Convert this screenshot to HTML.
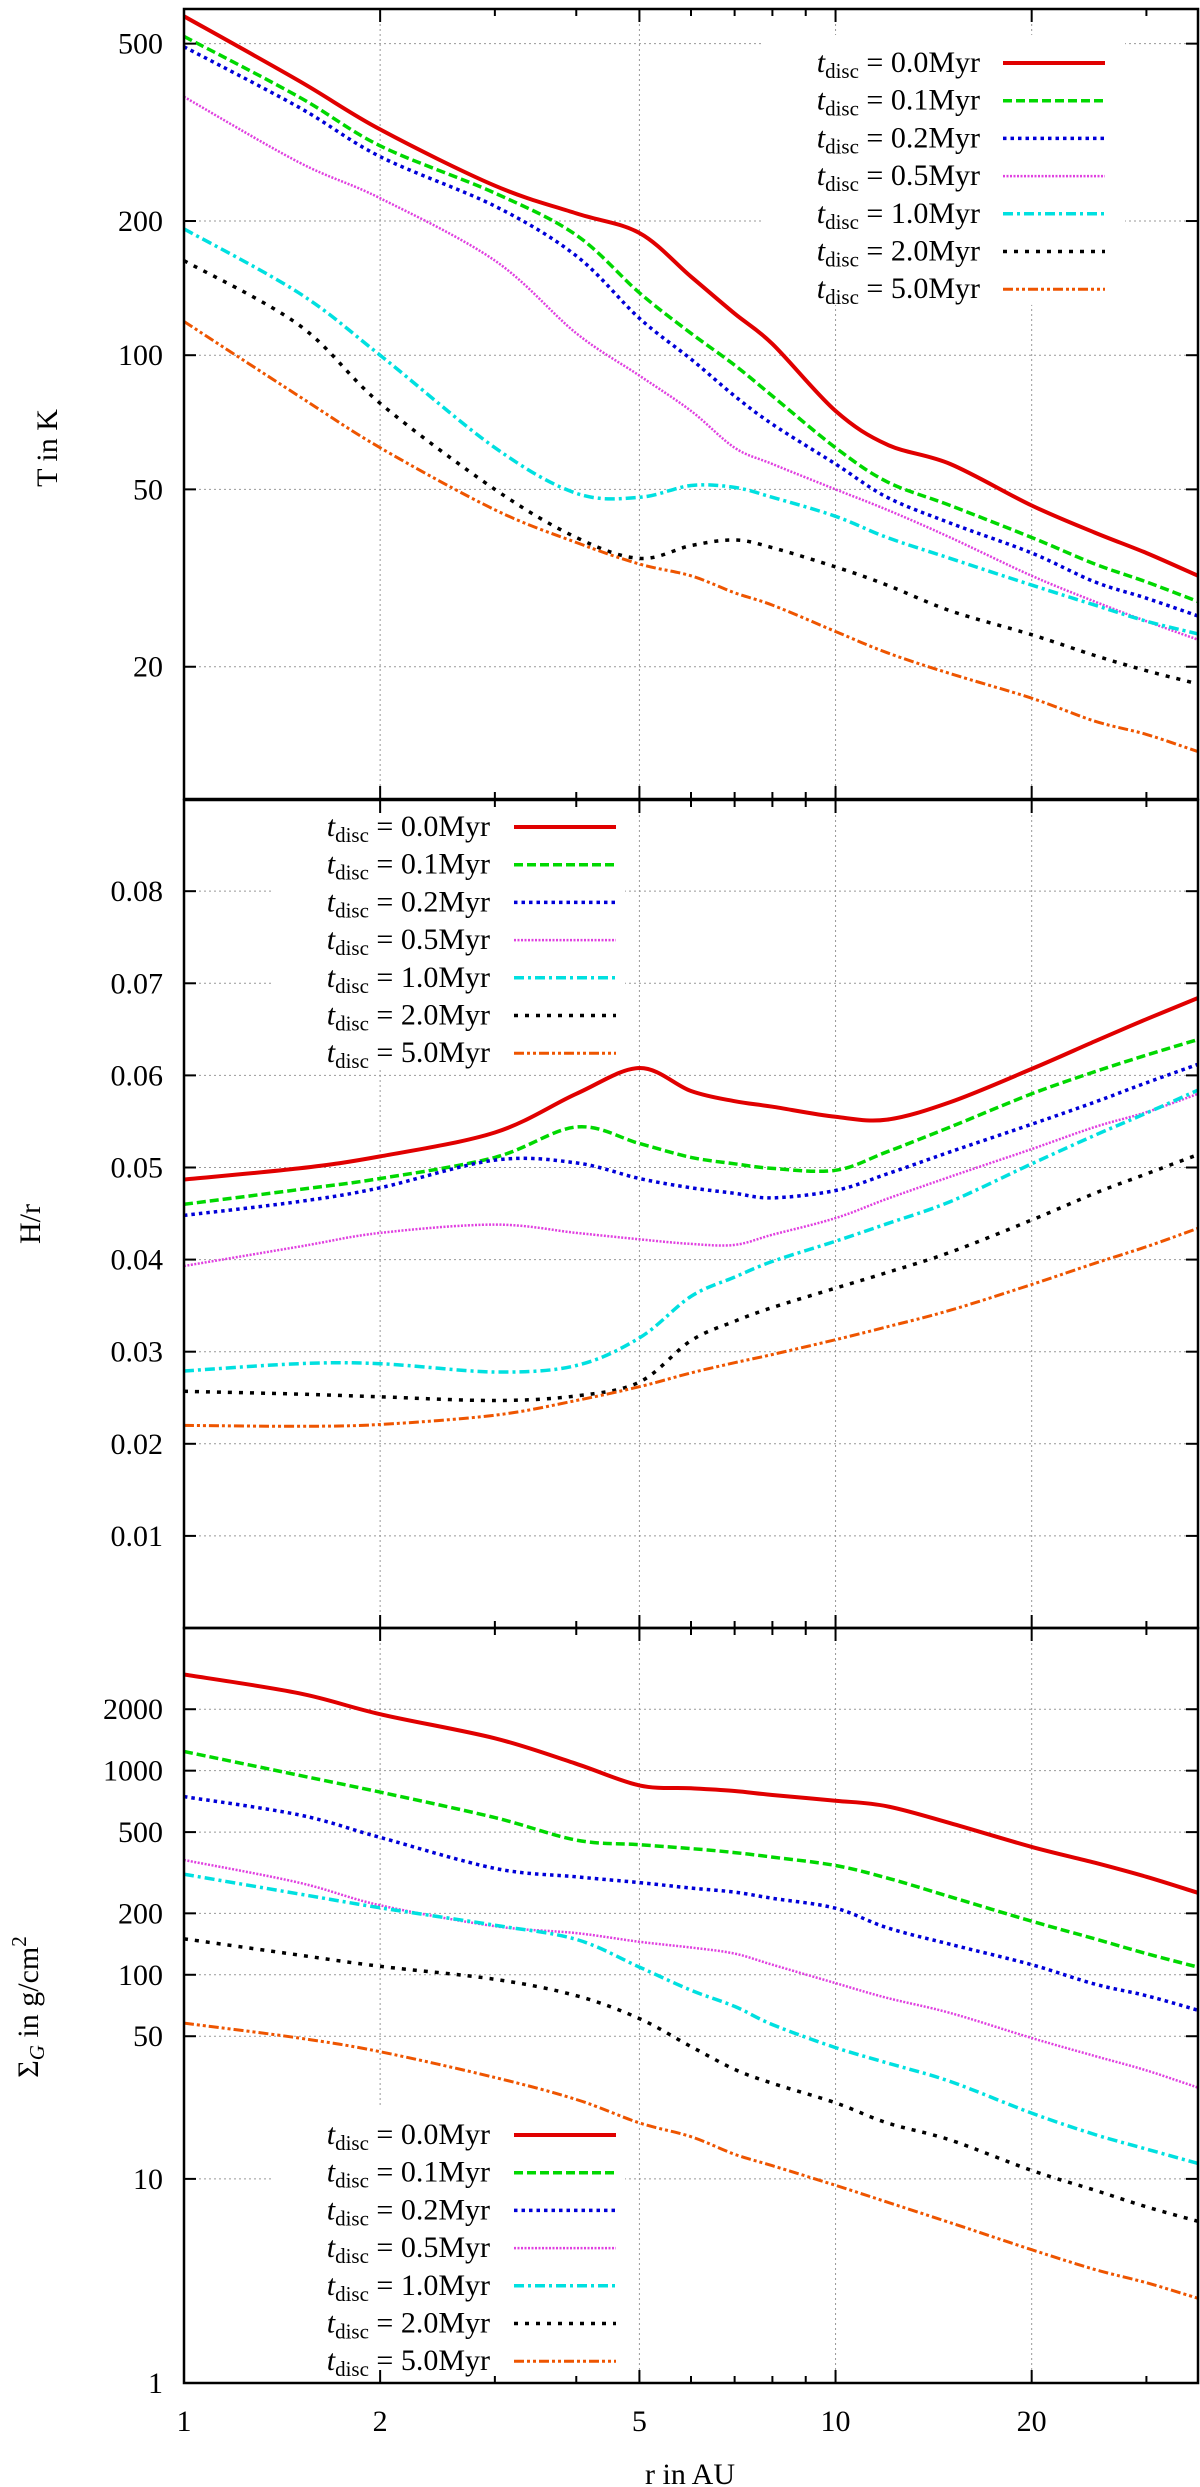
<!DOCTYPE html>
<html><head><meta charset="utf-8"><style>
body{margin:0;background:#fff}
svg{display:block;font-family:"Liberation Serif",serif}
</style></head><body>
<svg id="chart" width="1200" height="2487" viewBox="0 0 1200 2487" xmlns="http://www.w3.org/2000/svg"></svg>
<script>
// ---- data ----
const radii = [1,1.5,2,3,4,5,6,7,8,10,12,15,20,25,30,36];
const seriesLabels = ["0.0","0.1","0.2","0.5","1.0","2.0","5.0"];
const tempRed    = [576,413,321,240,208,188,150,124,106,75,63,57,46,40,36,32];
const tempGreen  = [519,380,295,231,186,138,112,95,81,62,52,46,39,34,31,28];
const tempBlue   = [492,360,279,216,167,121,98,81,70,57,48,42,36,31,28.5,26];
const tempPink   = [380,271,225,163,112,90,75,62,57,50,45,39,32,28,25.3,23];
const tempCyan   = [192,138,100,62,49,48,51,50.5,48,43.5,39,35,30.5,27.5,25.3,23.7];
const tempBlack  = [163,117,78,50,39,35,37.4,38.5,37,33.5,30.5,26.7,23.6,21.2,19.6,18.3];
const tempOrange = [119,81,62,45,38,34,32,29.3,27.5,24,21.5,19.3,17,15.1,14.1,12.9];
const hrRed    = [0.0487,0.0499,0.0512,0.0538,0.058,0.0608,0.0583,0.0572,0.0566,0.0555,0.0552,0.0571,0.0607,0.0637,0.0661,0.0684];
const hrGreen  = [0.046,0.0476,0.0488,0.0511,0.0544,0.0526,0.0511,0.0504,0.0499,0.0497,0.0517,0.0544,0.058,0.0604,0.0622,0.0639];
const hrBlue   = [0.0448,0.0463,0.0478,0.0508,0.0505,0.0488,0.0478,0.0472,0.0467,0.0475,0.0493,0.0517,0.0547,0.0571,0.0592,0.0612];
const hrPink   = [0.0393,0.0414,0.0429,0.0438,0.0429,0.0422,0.0417,0.0416,0.0427,0.0445,0.0466,0.049,0.052,0.0544,0.056,0.058];
const hrCyan   = [0.0279,0.0287,0.0287,0.0278,0.0285,0.0315,0.036,0.0381,0.0398,0.042,0.0439,0.0463,0.0504,0.0535,0.0559,0.0584];
const hrBlack  = [0.0257,0.0254,0.0251,0.0247,0.0252,0.0267,0.0312,0.0333,0.0348,0.0369,0.0386,0.0408,0.0443,0.0472,0.0493,0.0514];
const hrOrange = [0.022,0.0219,0.0221,0.0231,0.0247,0.0262,0.0277,0.0288,0.0297,0.0313,0.0327,0.0345,0.0373,0.0396,0.0414,0.0434];
const sigRed    = [2960,2397,1890,1440,1080,847,820,795,760,713,669,553,423,354,302,252];
const sigGreen  = [1242,950,785,589,457,434,415,397,377,343,298,241,183,150,127,109];
const sigBlue   = [746,608,471,332,302,283,266,254,237,212,170,141,112,90,79,67];
const sigPink   = [365,283,219,173,160,145,136,127,112,91,77,65,49,40,34,28];
const sigCyan   = [311,249,213,175,149,109,84,70,57,44,37,30,21,16.5,14,11.9];
const sigBlack  = [150,125,110,95,79,61,44.5,34.4,29.4,23.6,18.8,15.5,11,8.8,7.3,6.2];
const sigOrange = [58,49,42,31.4,24.5,18.8,16.1,13.2,11.6,9.3,7.7,6.1,4.5,3.6,3.1,2.6];
const xTicks = [1,2,5,10,20];
const xMinor = [3,4,6,7,8,9,30];
const tTicks = [20,50,100,200,500];
const hrTicks = [0.01,0.02,0.03,0.04,0.05,0.06,0.07,0.08];
const sigTicks = [1,10,50,100,200,500,1000,2000];

// ---- layout ----
const NS="http://www.w3.org/2000/svg";
const svg=document.getElementById('chart');
const X0=184,X1=1198,XMIN=1,XMAX=36;
const xs=r=>X0+(Math.log10(r)-Math.log10(XMIN))/(Math.log10(XMAX)-Math.log10(XMIN))*(X1-X0);
function logY(top,bot,min,max){return v=>bot-(Math.log10(v)-Math.log10(min))/(Math.log10(max)-Math.log10(min))*(bot-top);}
function linY(top,bot,min,max){return v=>bot-(v-min)/(max-min)*(bot-top);}
const colors=["#e00000","#00d800","#0000d8","#e040e0","#00e0e0","#000000","#ee5500"];
const dashes=[null,"9,4","3.5,4","2,1.5","10,4,3,4","4,7","10,3,3,3,3,3"];
const widths=[4,3.5,3.5,2.5,3.5,3.5,3];
const seriesNames=["t0","t01","t02","t05","t1","t2","t5"];

function el(tag,attrs,parent){const e=document.createElementNS(NS,tag);for(const k in attrs)e.setAttribute(k,attrs[k]);(parent||svg).appendChild(e);return e;}

function smoothPath(pts){
  let d=`M${pts[0][0].toFixed(1)},${pts[0][1].toFixed(1)}`;
  for(let i=0;i<pts.length-1;i++){
    const p0=pts[Math.max(0,i-1)],p1=pts[i],p2=pts[i+1],p3=pts[Math.min(pts.length-1,i+2)];
    const c1=[p1[0]+(p2[0]-p0[0])/6,p1[1]+(p2[1]-p0[1])/6];
    const c2=[p2[0]-(p3[0]-p1[0])/6,p2[1]-(p3[1]-p1[1])/6];
    d+=`C${c1[0].toFixed(1)},${c1[1].toFixed(1)} ${c2[0].toFixed(1)},${c2[1].toFixed(1)} ${p2[0].toFixed(1)},${p2[1].toFixed(1)}`;
  }
  return d;
}

function panel(cfg){
  const {key,top,bot,ys,yticks,fmt,series,legendX,legendLineX,legendY,yLabel,yLabelY,bx}=cfg;
  const g=el('g',{});
  
  
  // grid
  xTicks.slice(1).forEach(t=>{
    const l=el('line',{x1:xs(t),x2:xs(t),y1:top,y2:bot,stroke:'#999','stroke-width':1,'stroke-dasharray':'2,3'},g);
    
    
  });
  yticks.forEach(t=>{
    const l=el('line',{x1:X0,x2:X1,y1:ys(t),y2:ys(t),stroke:'#999','stroke-width':1,'stroke-dasharray':'2,3'},g);
    
    
  });
  // legend background
  const bg=el('rect',{x:bx[0],y:legendY-28,width:bx[1]-bx[0],height:37.7*7+6,fill:'#fff'},g);
  
  
  // series
  const clipId='clip-'+key;
  const cp=el('clipPath',{id:clipId},g);
  el('rect',{x:X0,y:top,width:X1-X0,height:bot-top},cp);
  series.forEach((vals,i)=>{
    const pts=radii.map((r,j)=>[xs(r),ys(vals[j])]);
    const a={d:smoothPath(pts),fill:'none',stroke:colors[i],'stroke-width':widths[i],'clip-path':`url(#${clipId})`};
    if(dashes[i])a['stroke-dasharray']=dashes[i];
    const p=el('path',a,g);
    
    
  });
  // legend entries
  seriesLabels.forEach((lab,i)=>{
    const y=legendY+i*37.7;
    const t=el('text',{x:legendX,y:y+9,'text-anchor':'end','font-size':30},g);
    
    
    const t1=el('tspan',{'font-style':'italic'},t);t1.textContent='t';
    const t2=el('tspan',{'font-size':21,dy:6},t);t2.textContent='disc';
    const t3=el('tspan',{dy:-6},t);t3.textContent=' = '+lab+'Myr';
    const a={x1:legendLineX,x2:legendLineX+102,y1:y,y2:y,stroke:colors[i],'stroke-width':widths[i]};
    if(dashes[i])a['stroke-dasharray']=dashes[i];
    const l=el('line',a,g);
    
    
  });
  // frame
  const fr=el('rect',{x:X0,y:top,width:X1-X0,height:bot-top,fill:'none',stroke:'#000','stroke-width':2.5},g);
  
  
  // y ticks + labels
  yticks.forEach(t=>{
    const y=ys(t);
    el('line',{x1:X0,x2:X0+12,y1:y,y2:y,stroke:'#000','stroke-width':2},g);
    el('line',{x1:X1-12,x2:X1,y1:y,y2:y,stroke:'#000','stroke-width':2},g);
    const tx=el('text',{x:163,y:y+10,'text-anchor':'end','font-size':30},g);
    
    
    tx.textContent=fmt(t);
  });
  // x ticks
  xTicks.slice(1).forEach(t=>{
    el('line',{x1:xs(t),x2:xs(t),y1:top,y2:top+13,stroke:'#000','stroke-width':2},g);
    el('line',{x1:xs(t),x2:xs(t),y1:bot-13,y2:bot,stroke:'#000','stroke-width':2},g);
  });
  xMinor.forEach(t=>{
    el('line',{x1:xs(t),x2:xs(t),y1:top,y2:top+7,stroke:'#000','stroke-width':2},g);
    el('line',{x1:xs(t),x2:xs(t),y1:bot-7,y2:bot,stroke:'#000','stroke-width':2},g);
  });
  // y label
  const yl=el('text',{x:0,y:0,'text-anchor':'middle','font-size':30,transform:`translate(${yLabel[1]},${yLabelY}) rotate(-90)`},g);
  
  
  yl.innerHTML=yLabel[0];
}

panel({key:'temperature',top:9,bot:799,ys:logY(9,799,10.1,598),yticks:tTicks,fmt:v=>String(v),
  series:[tempRed,tempGreen,tempBlue,tempPink,tempCyan,tempBlack,tempOrange],
  legendX:980,legendLineX:1003,legendY:63,bx:[762,1125],yLabel:['T in K',57],yLabelY:448});
panel({key:'aspect-ratio',top:800,bot:1628,ys:linY(800,1628,0,0.0899),yticks:hrTicks,fmt:v=>v.toFixed(2),
  series:[hrRed,hrGreen,hrBlue,hrPink,hrCyan,hrBlack,hrOrange],
  legendX:490,legendLineX:514,legendY:827,bx:[272,625],yLabel:['H/r',40],yLabelY:1224});
panel({key:'surface-density',top:1628,bot:2383,ys:logY(1628,2383,1,5000),yticks:sigTicks,fmt:v=>String(v),
  series:[sigRed,sigGreen,sigBlue,sigPink,sigCyan,sigBlack,sigOrange],
  legendX:490,legendLineX:514,legendY:2135,bx:[272,625],
  yLabel:['Σ<tspan font-style="italic" font-size="21" dy="6">G</tspan><tspan dy="-6"> in g/cm</tspan><tspan font-size="21" dy="-12">2</tspan>',38],yLabelY:2007});

// x tick labels
xTicks.forEach(t=>{
  const tx=el('text',{x:xs(t),y:2431,'text-anchor':'middle','font-size':30});
  
  
  tx.textContent=String(t);
});
const xt=el('text',{x:690,y:2484,'text-anchor':'middle','font-size':30});


xt.textContent='r in AU';
</script>
</body></html>
